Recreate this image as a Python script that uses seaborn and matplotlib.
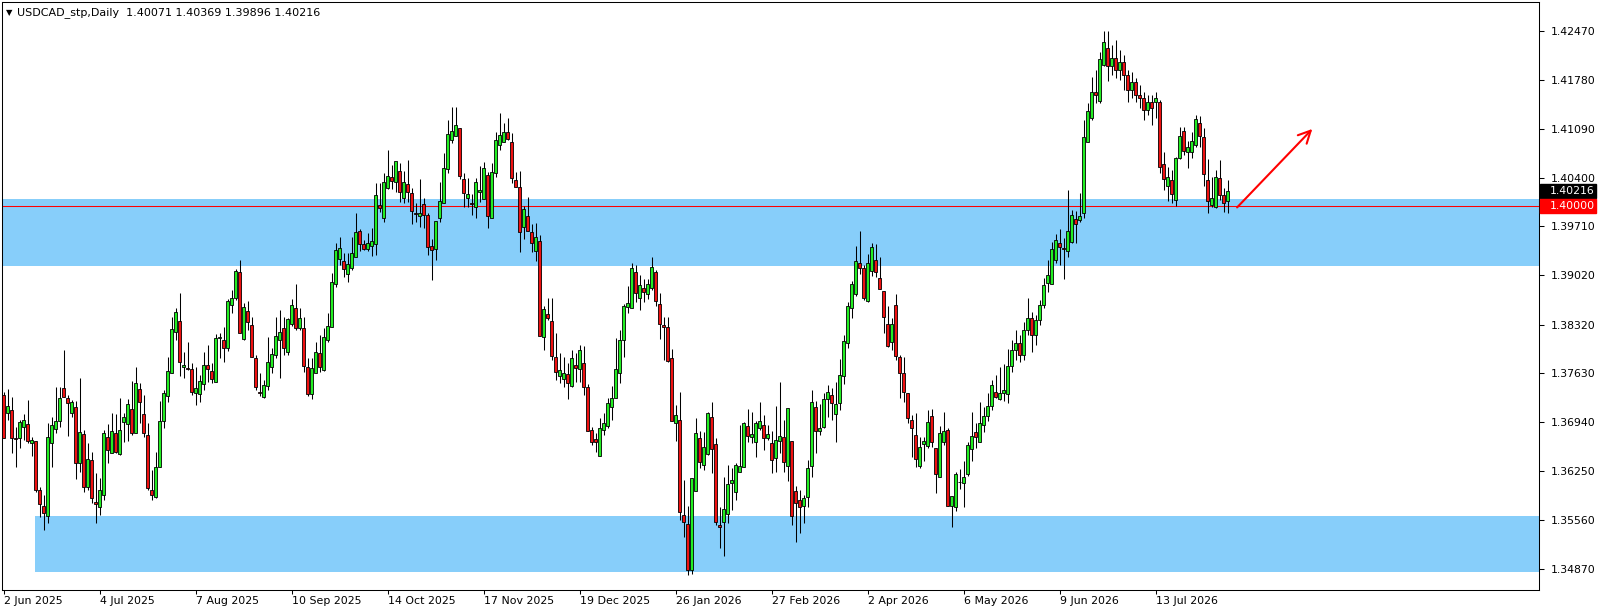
import numpy as np
import pandas as pd
import matplotlib
matplotlib.use("Agg")
import matplotlib.pyplot as plt
import seaborn as sns

# daily OHLC of USDCAD (bar 0 = 2 Jun 2025)
open_ = [
    1.3733, 1.3707, 1.3711, 1.3672, 1.3672, 1.3687, 1.3692, 1.3665, 1.3668, 1.3598,
    1.3576, 1.3561, 1.3665, 1.3685, 1.3696, 1.3743, 1.3728, 1.3707, 1.3716, 1.3636,
    1.3677, 1.3602, 1.3641, 1.3581, 1.3574, 1.3591, 1.3673, 1.3651, 1.3679, 1.3649,
    1.3694, 1.3692, 1.3713, 1.3679, 1.3741, 1.3706, 1.3676, 1.3598, 1.3588, 1.3631,
    1.3696, 1.3731, 1.3764, 1.3822, 1.3837, 1.3772, 1.3771, 1.3769, 1.3735, 1.3734,
    1.3748, 1.3775, 1.3766, 1.3751, 1.3813, 1.3810, 1.3799, 1.3860, 1.3870, 1.3907,
    1.3812, 1.3851, 1.3832, 1.3785, 1.3737, 1.3730, 1.3745, 1.3772, 1.3789, 1.3810,
    1.3827, 1.3793, 1.3833, 1.3856, 1.3827, 1.3827, 1.3772, 1.3734, 1.3764, 1.3792,
    1.3768, 1.3810, 1.3829, 1.3890, 1.3925, 1.3922, 1.3904, 1.3912, 1.3928, 1.3965,
    1.3946, 1.3939, 1.3943, 1.3946, 1.4001, 1.3983, 1.4025, 1.4041, 1.4034, 1.4050,
    1.4011, 1.4031, 1.4018, 1.3990, 1.3986, 1.4003, 1.3987, 1.3943, 1.3939, 1.3983,
    1.4004, 1.4052, 1.4093, 1.4099, 1.4110, 1.4038, 1.4011, 1.4004, 1.3999, 1.4020,
    1.4010, 1.4044, 1.3983, 1.4047, 1.4086, 1.4091, 1.4105, 1.4091, 1.4037, 1.4027,
    1.3970, 1.3986, 1.3963, 1.3936, 1.3950, 1.3815, 1.3847, 1.3837, 1.3786, 1.3759,
    1.3755, 1.3762, 1.3745, 1.3775, 1.3769, 1.3778, 1.3744, 1.3683, 1.3670, 1.3646,
    1.3683, 1.3689, 1.3716, 1.3728, 1.3764, 1.3810, 1.3857, 1.3856, 1.3907, 1.3870,
    1.3884, 1.3875, 1.3884, 1.3907, 1.3861, 1.3832, 1.3829, 1.3785, 1.3693, 1.3697,
    1.3563, 1.3550, 1.3485, 1.3597, 1.3672, 1.3634, 1.3649, 1.3701, 1.3663, 1.3549,
    1.3553, 1.3564, 1.3608, 1.3595, 1.3624, 1.3631, 1.3689, 1.3673, 1.3666, 1.3686,
    1.3690, 1.3672, 1.3665, 1.3643, 1.3668, 1.3673, 1.3632, 1.3668, 1.3597, 1.3584,
    1.3576, 1.3588, 1.3632, 1.3716, 1.3682, 1.3687, 1.3727, 1.3733, 1.3706, 1.3721,
    1.3759, 1.3806, 1.3856, 1.3875, 1.3919, 1.3912, 1.3866, 1.3908, 1.3924, 1.3898,
    1.3880, 1.3833, 1.3808, 1.3860, 1.3786, 1.3764, 1.3735, 1.3697, 1.3676, 1.3632,
    1.3663, 1.3660, 1.3703, 1.3658, 1.3617, 1.3666, 1.3683, 1.3576, 1.3574, 1.3609,
    1.3608, 1.3621, 1.3656, 1.3680, 1.3666, 1.3690, 1.3703, 1.3717, 1.3737, 1.3727,
    1.3735, 1.3734, 1.3774, 1.3796, 1.3806, 1.3789, 1.3825, 1.3842, 1.3817, 1.3839,
    1.3860, 1.3891, 1.3890, 1.3924, 1.3948, 1.3941, 1.3936, 1.3949, 1.3982, 1.3980,
    1.3990, 1.4091, 1.4125, 1.4161, 1.4149, 1.4199, 1.4224, 1.4198, 1.4209, 1.4192,
    1.4204, 1.4185, 1.4164, 1.4175, 1.4157, 1.4153, 1.4136, 1.4147, 1.4147, 1.4147,
    1.4059, 1.4028, 1.4037, 1.4009, 1.4068, 1.4106, 1.4076, 1.4076, 1.4086, 1.4118,
    1.4098, 1.4037, 1.4001, 1.3999, 1.4040, 1.4016, 1.40071,
]
high = [
    1.3737, 1.3741, 1.3730, 1.3687, 1.3697, 1.3706, 1.3726, 1.3673, 1.3668, 1.3602,
    1.3591, 1.3693, 1.3701, 1.3744, 1.3744, 1.3796, 1.3733, 1.3726, 1.3724, 1.3757,
    1.3683, 1.3665, 1.3652, 1.3622, 1.3615, 1.3683, 1.3692, 1.3707, 1.3706, 1.3728,
    1.3707, 1.3727, 1.3752, 1.3772, 1.3750, 1.3733, 1.3693, 1.3626, 1.3652, 1.3724,
    1.3740, 1.3786, 1.3843, 1.3856, 1.3877, 1.3793, 1.3808, 1.3778, 1.3772, 1.3761,
    1.3793, 1.3803, 1.3778, 1.3819, 1.3820, 1.3829, 1.3868, 1.3881, 1.3911, 1.3924,
    1.3863, 1.3866, 1.3843, 1.3789, 1.3764, 1.3754, 1.3815, 1.3799, 1.3843, 1.3853,
    1.3843, 1.3842, 1.3868, 1.3890, 1.3856, 1.3843, 1.3785, 1.3785, 1.3808, 1.3817,
    1.3827, 1.3849, 1.3905, 1.3948, 1.3956, 1.3934, 1.3934, 1.3956, 1.3990, 1.3967,
    1.3952, 1.3962, 1.3969, 1.4033, 1.4033, 1.4047, 1.4079, 1.4058, 1.4061, 1.4061,
    1.4050, 1.4065, 1.4025, 1.4004, 1.4038, 1.4011, 1.3990, 1.3953, 1.3979, 1.4034,
    1.4075, 1.4122, 1.4140, 1.4140, 1.4110, 1.4047, 1.4040, 1.4017, 1.4040, 1.4057,
    1.4062, 1.4048, 1.4061, 1.4105, 1.4132, 1.4118, 1.4125, 1.4103, 1.4048, 1.4050,
    1.4000, 1.4013, 1.3975, 1.3976, 1.3959, 1.3859, 1.3870, 1.3870, 1.3820, 1.3792,
    1.3786, 1.3778, 1.3796, 1.3792, 1.3803, 1.3802, 1.3748, 1.3687, 1.3679, 1.3700,
    1.3707, 1.3728, 1.3745, 1.3813, 1.3825, 1.3861, 1.3887, 1.3919, 1.3917, 1.3902,
    1.3897, 1.3897, 1.3928, 1.3909, 1.3877, 1.3843, 1.3843, 1.3798, 1.3718, 1.3737,
    1.3612, 1.3576, 1.3615, 1.3700, 1.3682, 1.3680, 1.3708, 1.3723, 1.3672, 1.3574,
    1.3617, 1.3634, 1.3629, 1.3636, 1.3690, 1.3694, 1.3713, 1.3708, 1.3696, 1.3723,
    1.3704, 1.3690, 1.3682, 1.3717, 1.3751, 1.3697, 1.3714, 1.3668, 1.3604, 1.3598,
    1.3591, 1.3641, 1.3740, 1.3724, 1.3720, 1.3735, 1.3747, 1.3743, 1.3751, 1.3784,
    1.3817, 1.3864, 1.3894, 1.3943, 1.3965, 1.3917, 1.3932, 1.3948, 1.3946, 1.3928,
    1.3880, 1.3859, 1.3842, 1.3875, 1.3789, 1.3786, 1.3735, 1.3704, 1.3707, 1.3673,
    1.3673, 1.3711, 1.3713, 1.3658, 1.3689, 1.3708, 1.3686, 1.3590, 1.3624, 1.3628,
    1.3639, 1.3666, 1.3708, 1.3693, 1.3723, 1.3716, 1.3735, 1.3754, 1.3761, 1.3772,
    1.3776, 1.3798, 1.3810, 1.3825, 1.3817, 1.3836, 1.3870, 1.3850, 1.3846, 1.3867,
    1.3898, 1.3924, 1.3949, 1.3960, 1.3967, 1.3955, 1.4023, 1.3994, 1.3993, 1.4018,
    1.4122, 1.4146, 1.4183, 1.4192, 1.4218, 1.4248, 1.4248, 1.4228, 1.4235, 1.4221,
    1.4214, 1.4192, 1.4190, 1.4181, 1.4171, 1.4161, 1.4157, 1.4157, 1.4161, 1.4150,
    1.4076, 1.4055, 1.4051, 1.4069, 1.4112, 1.4112, 1.4092, 1.4105, 1.4129, 1.4127,
    1.4110, 1.4066, 1.4041, 1.4051, 1.4065, 1.4025, 1.40369,
]
low = [
    1.3672, 1.3697, 1.3651, 1.3631, 1.3658, 1.3669, 1.3665, 1.3646, 1.3595, 1.3560,
    1.3542, 1.3552, 1.3631, 1.3679, 1.3687, 1.3730, 1.3675, 1.3701, 1.3614, 1.3624,
    1.3595, 1.3598, 1.3580, 1.3552, 1.3563, 1.3584, 1.3636, 1.3651, 1.3651, 1.3648,
    1.3666, 1.3668, 1.3676, 1.3679, 1.3693, 1.3673, 1.3598, 1.3584, 1.3587, 1.3631,
    1.3686, 1.3723, 1.3764, 1.3810, 1.3759, 1.3757, 1.3768, 1.3733, 1.3718, 1.3723,
    1.3740, 1.3751, 1.3750, 1.3751, 1.3785, 1.3779, 1.3795, 1.3849, 1.3867, 1.3820,
    1.3810, 1.3825, 1.3786, 1.3740, 1.3731, 1.3728, 1.3740, 1.3764, 1.3785, 1.3757,
    1.3789, 1.3789, 1.3830, 1.3825, 1.3825, 1.3765, 1.3731, 1.3727, 1.3764, 1.3765,
    1.3766, 1.3808, 1.3829, 1.3885, 1.3917, 1.3900, 1.3892, 1.3909, 1.3928, 1.3936,
    1.3938, 1.3936, 1.3929, 1.3931, 1.3992, 1.3977, 1.4024, 1.4024, 1.4020, 1.4006,
    1.4004, 1.4006, 1.3975, 1.3977, 1.3970, 1.3969, 1.3931, 1.3895, 1.3924, 1.3977,
    1.4004, 1.4047, 1.4089, 1.4099, 1.4038, 1.3999, 1.3999, 1.3987, 1.3983, 1.4006,
    1.4010, 1.3969, 1.3983, 1.4041, 1.4079, 1.4091, 1.4093, 1.4033, 1.4027, 1.3935,
    1.3953, 1.3965, 1.3935, 1.3922, 1.3816, 1.3796, 1.3839, 1.3782, 1.3754, 1.3750,
    1.3744, 1.3727, 1.3744, 1.3751, 1.3751, 1.3733, 1.3682, 1.3662, 1.3652, 1.3646,
    1.3676, 1.3686, 1.3697, 1.3728, 1.3750, 1.3786, 1.3849, 1.3856, 1.3864, 1.3853,
    1.3864, 1.3868, 1.3881, 1.3859, 1.3812, 1.3782, 1.3779, 1.3696, 1.3668, 1.3556,
    1.3532, 1.3478, 1.3479, 1.3597, 1.3629, 1.3626, 1.3648, 1.3622, 1.3549, 1.3516,
    1.3505, 1.3552, 1.3570, 1.3584, 1.3624, 1.3631, 1.3666, 1.3665, 1.3645, 1.3683,
    1.3655, 1.3669, 1.3622, 1.3624, 1.3651, 1.3624, 1.3611, 1.3549, 1.3525, 1.3537,
    1.3552, 1.3574, 1.3617, 1.3651, 1.3676, 1.3686, 1.3701, 1.3697, 1.3666, 1.3711,
    1.3748, 1.3799, 1.3842, 1.3873, 1.3904, 1.3867, 1.3864, 1.3901, 1.3900, 1.3883,
    1.3820, 1.3801, 1.3796, 1.3782, 1.3728, 1.3723, 1.3693, 1.3645, 1.3631, 1.3629,
    1.3639, 1.3658, 1.3659, 1.3594, 1.3617, 1.3662, 1.3576, 1.3546, 1.3568, 1.3599,
    1.3574, 1.3618, 1.3639, 1.3658, 1.3666, 1.3680, 1.3696, 1.3711, 1.3728, 1.3726,
    1.3724, 1.3721, 1.3765, 1.3782, 1.3779, 1.3782, 1.3817, 1.3793, 1.3803, 1.3832,
    1.3856, 1.3878, 1.3890, 1.3919, 1.3917, 1.3897, 1.3928, 1.3948, 1.3948, 1.3977,
    1.3983, 1.4091, 1.4122, 1.4146, 1.4146, 1.4198, 1.4177, 1.4185, 1.4181, 1.4178,
    1.4164, 1.4147, 1.4153, 1.4147, 1.4139, 1.4122, 1.4129, 1.4115, 1.4125, 1.4047,
    1.4023, 1.4007, 1.4004, 1.4000, 1.4066, 1.4072, 1.4054, 1.4068, 1.4084, 1.4084,
    1.4028, 1.3990, 1.3999, 1.3997, 1.4008, 1.3992, 1.39896,
]
close = [
    1.3672, 1.3717, 1.3672, 1.3670, 1.3694, 1.3697, 1.3668, 1.3669, 1.3598, 1.3578,
    1.3566, 1.3673, 1.3690, 1.3696, 1.3728, 1.3730, 1.3721, 1.3723, 1.3636, 1.3680,
    1.3602, 1.3642, 1.3587, 1.3578, 1.3598, 1.3679, 1.3655, 1.3682, 1.3652, 1.3683,
    1.3701, 1.3720, 1.3679, 1.3750, 1.3723, 1.3679, 1.3601, 1.3591, 1.3631, 1.3696,
    1.3735, 1.3766, 1.3826, 1.3850, 1.3779, 1.3775, 1.3769, 1.3737, 1.3743, 1.3752,
    1.3775, 1.3769, 1.3755, 1.3813, 1.3815, 1.3799, 1.3866, 1.3870, 1.3908, 1.3820,
    1.3857, 1.3836, 1.3786, 1.3744, 1.3736, 1.3747, 1.3779, 1.3791, 1.3816, 1.3822,
    1.3799, 1.3840, 1.3860, 1.3827, 1.3842, 1.3774, 1.3734, 1.3771, 1.3793, 1.3772,
    1.3815, 1.3830, 1.3892, 1.3938, 1.3941, 1.3911, 1.3918, 1.3934, 1.3963, 1.3946,
    1.3939, 1.3948, 1.3950, 1.4016, 1.3997, 1.4034, 1.4042, 1.4035, 1.4064, 1.4020,
    1.4034, 1.4020, 1.3993, 1.3989, 1.3990, 1.3987, 1.3942, 1.3938, 1.3979, 1.4007,
    1.4054, 1.4102, 1.4106, 1.4115, 1.4042, 1.4018, 1.4017, 1.4003, 1.4034, 1.4023,
    1.4054, 1.3986, 1.4048, 1.4093, 1.4100, 1.4105, 1.4095, 1.4040, 1.4027, 1.3963,
    1.3996, 1.3965, 1.3948, 1.3956, 1.3816, 1.3854, 1.3842, 1.3788, 1.3765, 1.3768,
    1.3764, 1.3750, 1.3785, 1.3771, 1.3796, 1.3744, 1.3682, 1.3666, 1.3666, 1.3686,
    1.3693, 1.3721, 1.3728, 1.3769, 1.3810, 1.3859, 1.3863, 1.3912, 1.3877, 1.3888,
    1.3878, 1.3890, 1.3914, 1.3866, 1.3833, 1.3829, 1.3781, 1.3696, 1.3704, 1.3567,
    1.3553, 1.3485, 1.3615, 1.3679, 1.3638, 1.3659, 1.3707, 1.3656, 1.3553, 1.3546,
    1.3571, 1.3607, 1.3612, 1.3634, 1.3632, 1.3693, 1.3675, 1.3677, 1.3693, 1.3696,
    1.3672, 1.3677, 1.3641, 1.3669, 1.3675, 1.3638, 1.3714, 1.3561, 1.3580, 1.3574,
    1.3587, 1.3629, 1.3723, 1.3682, 1.3686, 1.3727, 1.3737, 1.3721, 1.3720, 1.3761,
    1.3809, 1.3859, 1.3890, 1.3922, 1.3912, 1.3870, 1.3919, 1.3942, 1.3907, 1.3883,
    1.3843, 1.3802, 1.3833, 1.3788, 1.3764, 1.3737, 1.3700, 1.3686, 1.3642, 1.3659,
    1.3668, 1.3694, 1.3666, 1.3621, 1.3679, 1.3682, 1.3576, 1.3590, 1.3621, 1.3610,
    1.3617, 1.3662, 1.3675, 1.3673, 1.3693, 1.3703, 1.3717, 1.3747, 1.3730, 1.3735,
    1.3740, 1.3774, 1.3796, 1.3806, 1.3789, 1.3825, 1.3842, 1.3817, 1.3839, 1.3860,
    1.3888, 1.3902, 1.3939, 1.3952, 1.3942, 1.3939, 1.3965, 1.3987, 1.3975, 1.3986,
    1.4098, 1.4134, 1.4161, 1.4157, 1.4208, 1.4232, 1.4198, 1.4209, 1.4192, 1.4204,
    1.4185, 1.4164, 1.4175, 1.4157, 1.4153, 1.4136, 1.4147, 1.4139, 1.4153, 1.4055,
    1.4038, 1.4041, 1.4017, 1.4068, 1.4099, 1.4078, 1.4084, 1.4092, 1.4123, 1.4099,
    1.4045, 1.4007, 1.4011, 1.4041, 1.4016, 1.4004, 1.40216,
]

date_labels = ["2 Jun 2025", "4 Jul 2025", "7 Aug 2025", "10 Sep 2025", "14 Oct 2025",
               "17 Nov 2025", "19 Dec 2025", "26 Jan 2026", "27 Feb 2026", "2 Apr 2026",
               "6 May 2026", "9 Jun 2026", "13 Jul 2026"]
label_every = 24
price_ticks = [1.42470, 1.41780, 1.41090, 1.40400, 1.39710, 1.39020,
               1.38320, 1.37630, 1.36940, 1.36250, 1.35560, 1.34870]

upper_zone = (1.39151, 1.40099)
lower_zone = (1.34821, 1.35614)
lower_zone_start = 7.9
level = 1.40000
last_price = close[-1]
arrow_from = (308.4, 1.3998)
arrow_to = (327.2, 1.4109)
title = "USDCAD_stp,Daily  1.40071 1.40369 1.39896 1.40216"

df = pd.DataFrame({"open": open_, "high": high, "low": low, "close": close})
df["date"] = pd.bdate_range("2025-06-02", periods=len(df))
df["x"] = np.arange(len(df))
df["up"] = df["close"] >= df["open"]

sns.set_theme(style="white")
plt.rcParams["font.family"] = ["DejaVu Sans"]

W, H = 1604, 613
fig = plt.figure(figsize=(W / 100, H / 100), dpi=100)
fig.patch.set_facecolor("white")
# plot area in pixels: x 2..1539, y 2..590
ax = fig.add_axes([2 / W, (H - 590) / H, 1537 / W, 588 / H])
ax.set_facecolor("white")

GREEN = "#22ee22"
RED = "#ee1111"
BLUE = "#87cefa"

ax.axhspan(*upper_zone, color=BLUE, lw=0, zorder=0)
ax.axhspan(*lower_zone, xmin=(lower_zone_start + 0.375) / 384.25, color=BLUE, lw=0, zorder=0)
ax.axhline(level, color="red", lw=0.75, zorder=1)

ax.vlines(df["x"], df["low"], df["high"], color="black", lw=0.75, zorder=2)
body_lo = df[["open", "close"]].min(axis=1)
body_h = (df["close"] - df["open"]).abs()
ax.bar(df["x"], body_h, bottom=body_lo, width=0.6,
       color=np.where(df["up"], GREEN, RED), edgecolor="black", linewidth=0.6, zorder=3)

ax.annotate("", xy=arrow_to, xytext=arrow_from,
            arrowprops=dict(arrowstyle="->", color="red", lw=1.5, mutation_scale=22,
                            shrinkA=0, shrinkB=0), zorder=4)

ax.set_xlim(-0.375, 383.875)
ax.set_ylim(1.345664, 1.428866)

ax.yaxis.tick_right()
ax.set_yticks(price_ticks)
ax.set_yticklabels([f"{p:.5f}" for p in price_ticks])
xt = list(range(0, len(df), label_every))[:len(date_labels)]
ax.set_xticks(xt)
ax.set_xticklabels(date_labels, ha="left")
ax.tick_params(axis="y", which="both", right=True, left=False, direction="out",
               length=3.5, width=0.75, pad=5, labelsize=7.8, colors="black")
ax.tick_params(axis="x", which="both", bottom=True, direction="out",
               length=3, width=0.75, pad=1.5, labelsize=7.9, colors="black")
for s in ax.spines.values():
    s.set_color("black")
    s.set_linewidth(0.75)
ax.grid(False)

# price boxes on the axis
ytr = ax.get_yaxis_transform()
for price, fc in [(last_price, "black"), (level, "#ff0000")]:
    ax.add_patch(plt.Rectangle((1.0005, price - 0.00099), 0.0365, 0.00198,
                               transform=ytr, facecolor=fc, edgecolor=fc,
                               clip_on=False, zorder=5))
    ax.text(1.0073, price, f"{price:.5f}", transform=ytr, ha="left", va="center",
            color="white", fontsize=7.8, clip_on=False, zorder=6)

fig.text(6 / W, 1 - 12.5 / H, "\u25bc", fontsize=6, va="center", ha="left", color="black")
fig.text(17 / W, 1 - 12.5 / H, title, fontsize=8.0, va="center", ha="left", color="black")

fig.savefig("out.png", dpi=100)
